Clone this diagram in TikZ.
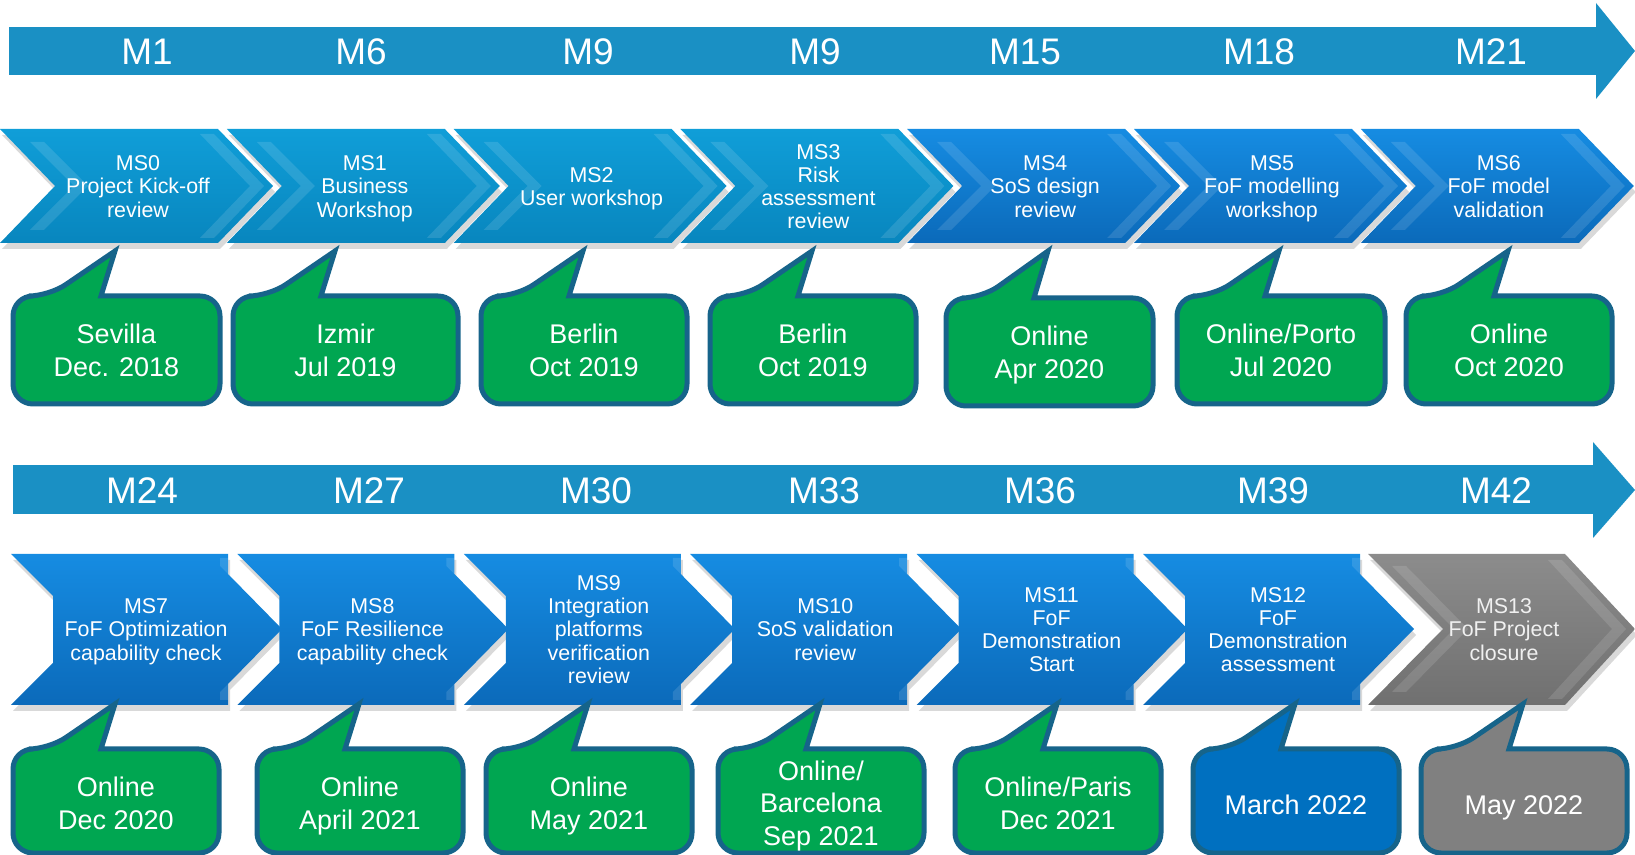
\documentclass[tikz,border=0pt]{standalone}
\usepackage{fontspec}
\setmainfont{Liberation Sans}
\usetikzlibrary{calc,shadows}

\definecolor{timeblue}{RGB}{26,144,196}
\definecolor{cyantop}{RGB}{16,158,216}
\definecolor{cyanbot}{RGB}{8,134,190}
\definecolor{bluetop}{RGB}{22,140,226}
\definecolor{bluebot}{RGB}{11,106,186}
\definecolor{greytop}{RGB}{140,140,140}
\definecolor{greybot}{RGB}{112,112,112}
\definecolor{placegreen}{RGB}{0,166,81}
\definecolor{placeblue}{RGB}{0,112,192}
\definecolor{placegrey}{RGB}{128,128,128}
\definecolor{calloutedge}{RGB}{22,100,138}

\tikzset{
  timeline/.style={fill=timeblue},
  month/.style={text=white,font=\fontsize{18.5}{20}\selectfont},
  chevshadow/.style={drop shadow={opacity=0.3,shadow xshift=1pt,shadow yshift=-3pt}},
  cyanchev/.style={top color=cyantop,bottom color=cyanbot,chevshadow},
  bluechev/.style={top color=bluetop,bottom color=bluebot,chevshadow},
  greychev/.style={top color=greytop,bottom color=greybot,chevshadow},
  bevel/.style={fill=white,fill opacity=0.12},
  chevtext/.style={text=white,align=center,font=\fontsize{10.7}{11.6}\selectfont,
    execute at begin node=\strut,execute at end node=\strut},
  callout/.style={draw=calloutedge,line width=2.5pt},
  place/.style={text=white,align=center,font=\fontsize{13.5}{16.4}\selectfont,
    execute at begin node=\strut,execute at end node=\strut}
}

\begin{document}
\begin{tikzpicture}[x=0.5pt,y=-0.5pt]
\useasboundingbox (0,0) rectangle (1635,855);

% timelines
\fill[timeline] (9,27) rectangle (1597,75);
\fill[timeline] (1596,3) -- (1635,51) -- (1596,99) -- cycle;
\fill[timeline] (13,465) rectangle (1594,514);
\fill[timeline] (1593,442) -- (1635,490) -- (1593,538) -- cycle;

\foreach \i/\x/\lab in {1/147/M1,2/361/M6,3/588/M9,4/815/M9,5/1025/M15,6/1259/M18,7/1491/M21}
  \node[month] (tm\i) at (\x,52) {\lab};
\foreach \i/\x/\lab in {1/142/M24,2/369/M27,3/596/M30,4/824/M33,5/1040/M36,6/1273/M39,7/1496/M42}
  \node[month] (bm\i) at (\x,491) {\lab};

% milestones, first row
\foreach \i/\col/\txt in {0/cyanchev/{MS0\\Project Kick-off\\review},
                          1/cyanchev/{MS1\\Business\\Workshop},
                          2/cyanchev/{MS2\\User workshop},
                          3/cyanchev/{MS3\\Risk\\assessment\\review},
                          4/bluechev/{MS4\\SoS design\\review},
                          5/bluechev/{MS5\\FoF modelling\\workshop},
                          6/bluechev/{MS6\\FoF model\\validation}}{
  \pgfmathsetmacro\x{226.8*\i}
  \path[\col] (\x,129) -- ++(218,0) -- ++(55,57) -- ++(-55,57) -- ++(-218,0) -- ++(55,-57) -- cycle;
  \fill[bevel] (\x+200,134) -- ++(14,0) -- ++(50,52) -- ++(-50,52) -- ++(-14,0) -- ++(50,-52) -- cycle;
  \fill[bevel] (\x+30,142) -- ++(14,0) -- ++(44,44) -- ++(-44,44) -- ++(-14,0) -- ++(44,-44) -- cycle;
  \node[chevtext] (ms\i) at (\x+138,190) {\txt};
}

% milestones, second row
\foreach \i/\txt in {7/{MS7\\FoF Optimization\\capability check},
                     8/{MS8\\FoF Resilience\\capability check},
                     9/{MS9\\Integration\\platforms\\verification\\review},
                     10/{MS10\\SoS validation\\review},
                     11/{MS11\\FoF\\Demonstration\\Start},
                     12/{MS12\\FoF\\Demonstration\\assessment}}{
  \pgfmathsetmacro\x{11+226.4*(\i-7)}
  \path[bluechev] (\x,554) -- ++(217,0) -- ++(0,20) -- ++(54,55) -- ++(-54,55) -- ++(0,21)
    -- ++(-217,0) -- ++(42,-42) -- ++(0,-67) -- cycle;
  \fill[bevel] (\x+209,558) -- ++(8,0) -- ++(0,16) -- ++(-8,-8) -- cycle;
  \fill[bevel] (\x+209,700) -- ++(8,0) -- ++(0,-16) -- ++(-8,8) -- cycle;
  \node[chevtext] (ms\i) at (\x+135,633) {\txt};
}
\path[greychev] (1368,554) -- (1565,554) -- (1635,629) -- (1565,705) -- (1368,705) -- (1443,629) -- cycle;
\fill[bevel] (1548,560) -- ++(14,0) -- ++(64,69) -- ++(-64,70) -- ++(-14,0) -- ++(64,-70) -- cycle;
\fill[bevel] (1392,566) -- ++(14,0) -- ++(62,63) -- ++(-62,63) -- ++(-14,0) -- ++(62,-63) -- cycle;
\node[chevtext,text=white!94!black] (ms13) at (1504,633) {MS13\\FoF Project\\closure};

% places and dates, first row
\foreach \i/\L/\T/\W/\txt in {0/13/296/207/{Sevilla\\Dec. 2018},
                              1/233/296/225/{Izmir\\Jul 2019},
                              2/481/296/206/{Berlin\\Oct 2019},
                              3/710/296/206/{Berlin\\Oct 2019},
                              4/946/298/207/{Online\\Apr 2020},
                              5/1177/296/208/{Online/Porto\\Jul 2020},
                              6/1406/296/206/{Online\\Oct 2020}}{
  \draw[callout,fill=placegreen] (\L+102,251) -- (\L+88,\T) [rounded corners=10pt] -- (\L+\W,\T)
    -- (\L+\W,\T+108) -- (\L,\T+108) -- (\L,\T) -- (\L+36,\T) [sharp corners] -- cycle;
  \node[place] (c\i) at (\L+\W/2,\T+59) {\txt};
}

% places and dates, second row
\foreach \i/\L/\col/\txt in {7/13/placegreen/{Online\\Dec 2020},
                             8/257/placegreen/{Online\\April 2021},
                             9/486/placegreen/{Online\\May 2021},
                             10/718/placegreen/{Online/\\Barcelona\\Sep 2021},
                             11/955/placegreen/{Online/Paris\\Dec 2021},
                             12/1193/placeblue/{March 2022},
                             13/1421/placegrey/{May 2022}}{
  \draw[callout,fill=\col] (\L+102,704) -- (\L+88,749) [rounded corners=10pt] -- (\L+206,749)
    -- (\L+206,853) -- (\L,853) -- (\L,749) -- (\L+36,749) [sharp corners] -- cycle;
  \node[place] (c\i) at (\L+103,808) {\txt};
}
\end{tikzpicture}
\end{document}
